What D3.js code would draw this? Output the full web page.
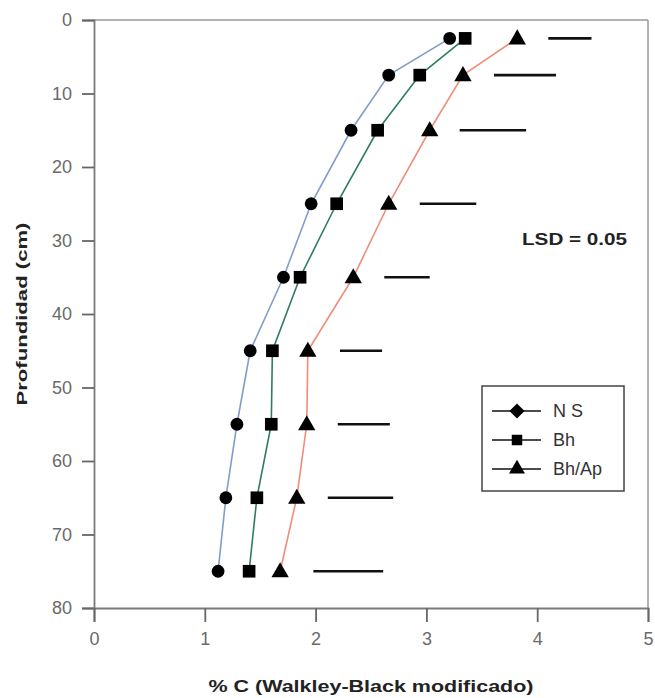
<!DOCTYPE html>
<html>
<head>
<meta charset="utf-8">
<script src="https://cdn.jsdelivr.net/npm/d3@7"></script>
<style>
  html, body { margin: 0; padding: 0; background: #fff; }
  svg { display: block; }
  text { font-family: "Liberation Sans", Arial, sans-serif; }
</style>
</head>
<body>
<svg id="chart" width="655" height="698"></svg>
<script>
// ---- data ----
const depths = [2.5, 7.5, 15, 25, 35, 45, 55, 65, 75];
const seriesNames = ["N S", "Bh", "Bh/Ap"];
const valuesNS   = [3.21, 2.66, 2.32, 1.96, 1.71, 1.41, 1.29, 1.19, 1.12];
const valuesBh   = [3.35, 2.94, 2.56, 2.19, 1.86, 1.61, 1.60, 1.47, 1.40];
const valuesBhAp = [3.82, 3.33, 3.03, 2.66, 2.34, 1.93, 1.92, 1.83, 1.68];
const lsdStart   = [4.10, 3.61, 3.30, 2.94, 2.62, 2.22, 2.20, 2.11, 1.98];
const lsdEnd     = [4.49, 4.17, 3.90, 3.45, 3.03, 2.60, 2.67, 2.70, 2.61];
const xTicks = [0, 1, 2, 3, 4, 5];
const yTicks = [0, 10, 20, 30, 40, 50, 60, 70, 80];
const xTitle = "% C (Walkley-Black modificado)";
const yTitle = "Profundidad (cm)";
const lsdLabel = "LSD = 0.05";

// ---- layout ----
const svg = d3.select("#chart");
const L = 94, R = 648, T = 20, B = 608;
const x = d3.scaleLinear().domain([0, 5]).range([L, R]);
const y = d3.scaleLinear().domain([0, 80]).range([T, B]);

const axisColor = "#7a7a7a";
const tickTextColor = "#6a6a6a";

// frame (top, right)
svg.append("line").attr("x1", L).attr("x2", R).attr("y1", T).attr("y2", T)
  .attr("stroke", "#999").attr("stroke-width", 1.5);
svg.append("line").attr("x1", R).attr("x2", R).attr("y1", T).attr("y2", B)
  .attr("stroke", "#999").attr("stroke-width", 1.5);

// y axis
const yAxis = svg.append("g").attr("transform", `translate(${L},0)`)
  .call(d3.axisLeft(y).tickValues(yTicks).tickSize(12).tickPadding(10).tickFormat(d3.format("d")));
// x axis
const xAxis = svg.append("g").attr("transform", `translate(0,${B})`)
  .call(d3.axisBottom(x).tickValues(xTicks).tickSize(14).tickPadding(10).tickFormat(d3.format("d")));

[yAxis, xAxis].forEach(g => {
  g.select(".domain").attr("stroke", axisColor).attr("stroke-width", 1.8);
  g.selectAll(".tick line").attr("stroke", "#666").attr("stroke-width", 1.8);
  g.selectAll(".tick text").attr("fill", tickTextColor)
    .style("font-size", "18px").style("font-family", "'Liberation Sans', Arial, sans-serif");
});

// titles
svg.append("text").attr("x", (L + R) / 2).attr("y", 692)
  .attr("text-anchor", "middle").style("font-weight", "bold").style("font-size", "16px")
  .attr("fill", "#222").attr("textLength", 325).attr("lengthAdjust", "spacingAndGlyphs")
  .text(xTitle);
svg.append("text").attr("transform", `translate(27,${(T + B) / 2}) rotate(-90)`)
  .attr("text-anchor", "middle").style("font-weight", "bold").style("font-size", "15px")
  .attr("fill", "#222").attr("textLength", 183).attr("lengthAdjust", "spacingAndGlyphs")
  .text(yTitle);

// series
const series = [
  { name: seriesNames[0], values: valuesNS,   color: "#7f9dcb", shape: "circle" },
  { name: seriesNames[1], values: valuesBh,   color: "#2f7d5c", shape: "square" },
  { name: seriesNames[2], values: valuesBhAp, color: "#ef8e78", shape: "triangle" }
];

const line = d3.line().x(d => x(d.v)).y(d => y(d.d));
const symbolFor = {
  circle: d3.symbol().type(d3.symbolCircle).size(128),
  square: d3.symbol().type(d3.symbolSquare).size(160),
  triangle: d3.symbol().type(d3.symbolTriangle).size(130)
};
const wideDiamond = { draw(ctx, size) { const r = Math.sqrt(size) * 0.72; ctx.moveTo(0, -r); ctx.lineTo(r, 0); ctx.lineTo(0, r); ctx.lineTo(-r, 0); ctx.closePath(); } };
const legendSymbolFor = {
  circle: d3.symbol().type(wideDiamond).size(110),
  square: d3.symbol().type(d3.symbolSquare).size(110),
  triangle: d3.symbol().type(d3.symbolTriangle).size(110)
};

series.forEach(s => {
  const pts = depths.map((d, i) => ({ d, v: s.values[i] }));
  svg.append("path").datum(pts).attr("d", line)
    .attr("fill", "none").attr("stroke", s.color).attr("stroke-width", 1.6);
});
series.forEach(s => {
  const pts = depths.map((d, i) => ({ d, v: s.values[i] }));
  svg.append("g").selectAll("path").data(pts).join("path")
    .attr("transform", p => `translate(${x(p.v)},${y(p.d) + (s.shape === "triangle" ? 1 : 0)})`)
    .attr("d", symbolFor[s.shape]).attr("fill", "#000");
});

// LSD bars
svg.append("g").selectAll("line").data(depths).join("line")
  .attr("x1", (d, i) => x(lsdStart[i])).attr("x2", (d, i) => x(lsdEnd[i]))
  .attr("y1", d => y(d)).attr("y2", d => y(d))
  .attr("stroke", "#111").attr("stroke-width", 2.6);

svg.append("text").attr("x", 522).attr("y", 245)
  .style("font-weight", "bold").style("font-size", "16px").attr("fill", "#222")
  .attr("textLength", 105).attr("lengthAdjust", "spacingAndGlyphs")
  .text(lsdLabel);

// legend
const lg = svg.append("g");
lg.append("rect").attr("x", 482).attr("y", 386).attr("width", 142).attr("height", 105)
  .attr("fill", "#fff").attr("stroke", "#444").attr("stroke-width", 1.5);
series.forEach((s, i) => {
  const yy = 411 + i * 29;
  lg.append("line").attr("x1", 492).attr("x2", 541).attr("y1", yy).attr("y2", yy)
    .attr("stroke", "#111").attr("stroke-width", 1.4);
  lg.append("path").attr("transform", `translate(517,${yy})`)
    .attr("d", legendSymbolFor[s.shape]).attr("fill", "#000");
  lg.append("text").attr("x", 553).attr("y", yy + 6).style("font-size", "18px")
    .attr("fill", "#333").text(s.name);
});
</script>
</body>
</html>
